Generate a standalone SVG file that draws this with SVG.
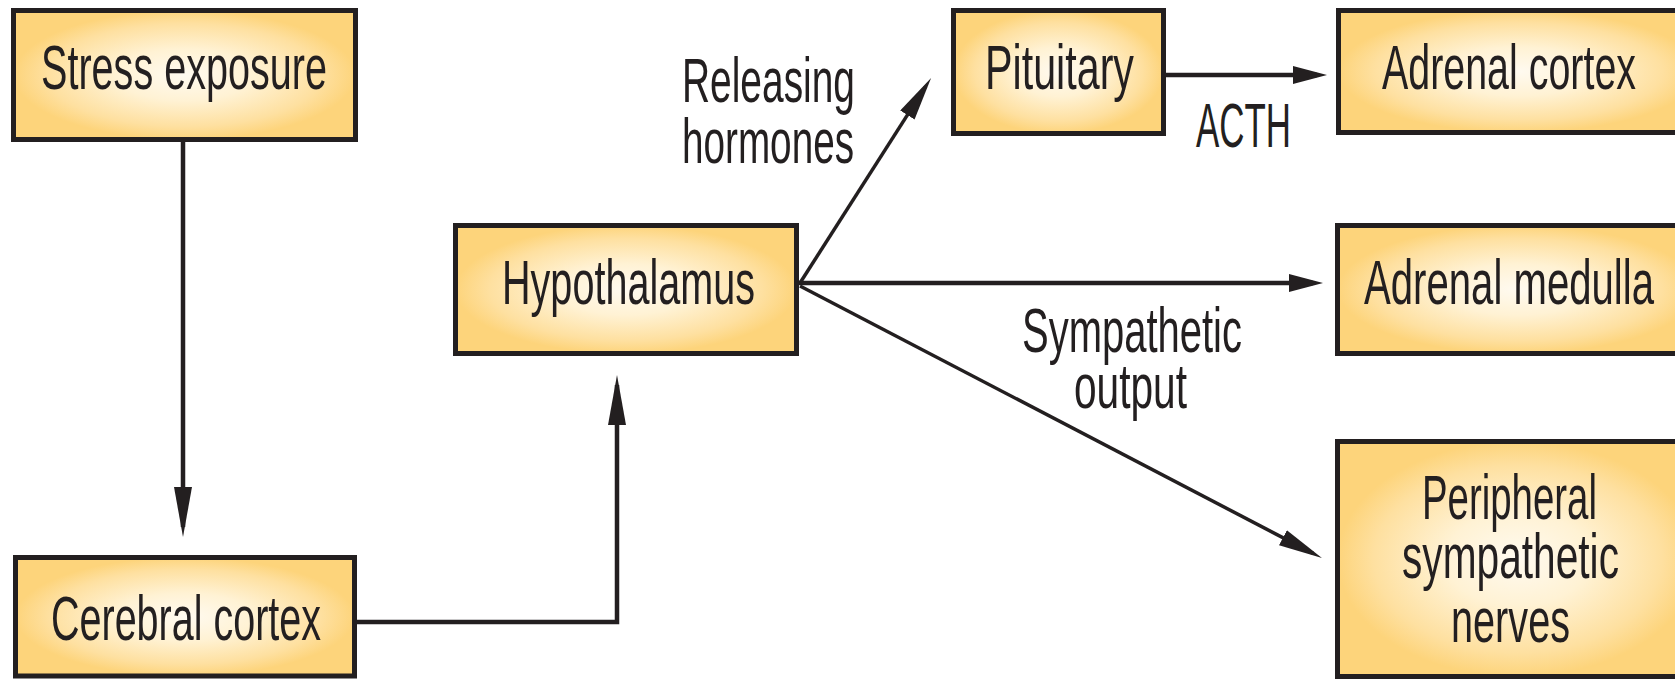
<svg xmlns="http://www.w3.org/2000/svg" width="1675" height="679" viewBox="0 0 1675 679">
<style>
.box{fill:url(#g);stroke:#231f20;stroke-width:5}
.t{font-family:"Liberation Sans",Arial,sans-serif;font-size:63px;fill:#231f20}
.c{fill:none;stroke:#231f20;stroke-width:4.5}
.d{fill:none;stroke:#231f20;stroke-width:3.5}
</style>
<defs>
<radialGradient id="g" cx="0.5" cy="0.5" r="0.5">
<stop offset="0" stop-color="#fffaf0"/>
<stop offset="0.4" stop-color="#fff2d4"/>
<stop offset="0.8" stop-color="#fee0a0"/>
<stop offset="1" stop-color="#fdd47b"/>
</radialGradient>
<marker id="aH" markerUnits="userSpaceOnUse" markerWidth="34" markerHeight="20" refX="24" refY="9" orient="auto"><path d="M0,0 L34,9 L0,18 Z" fill="#231f20"/></marker>
<marker id="aD" markerUnits="userSpaceOnUse" markerWidth="44" markerHeight="18" refX="34" refY="8.5" orient="auto"><path d="M0,0 L44,8.5 L0,17 Z" fill="#231f20"/></marker>
<marker id="aV" markerUnits="userSpaceOnUse" markerWidth="50" markerHeight="18" refX="40" refY="9" orient="auto"><path d="M0,0 L50,9 L0,18 Z" fill="#231f20"/></marker>
</defs>
<rect width="1675" height="679" fill="#ffffff"/>
<g id="connectors">
<path class="c" d="M183,142 V527" marker-end="url(#aV)"/>
<path class="c" d="M357,622 H617 V385" marker-end="url(#aV)"/>
<path class="d" d="M800,283 L925.7,86.4" marker-end="url(#aD)"/>
<path class="c" d="M797,283 H1313" marker-end="url(#aH)"/>
<path class="d" d="M800,286 L1313.1,553.4" marker-end="url(#aD)"/>
<path class="c" d="M1164,75 H1317" marker-end="url(#aH)"/>
<text class="t" x="682" y="102" textLength="173" lengthAdjust="spacingAndGlyphs">Releasing</text>
<text class="t" x="682" y="163" textLength="172" lengthAdjust="spacingAndGlyphs">hormones</text>
<text class="t" x="1196" y="147" textLength="95" lengthAdjust="spacingAndGlyphs">ACTH</text>
<text class="t" x="1022" y="352" textLength="220" lengthAdjust="spacingAndGlyphs">Sympathetic</text>
<text class="t" x="1074" y="408" textLength="113" lengthAdjust="spacingAndGlyphs">output</text>
</g>
<g id="stress">
<rect class="box" x="13.5" y="10.5" width="342" height="129"/>
<text class="t" x="41" y="89" textLength="286" lengthAdjust="spacingAndGlyphs">Stress exposure</text>
</g>
<g id="cerebral">
<rect class="box" x="15.5" y="557.5" width="339" height="118.5"/>
<text class="t" x="51" y="640" textLength="270" lengthAdjust="spacingAndGlyphs">Cerebral cortex</text>
</g>
<g id="hypothalamus">
<rect class="box" x="455.5" y="225.5" width="341" height="128"/>
<text class="t" x="502" y="304" textLength="253" lengthAdjust="spacingAndGlyphs">Hypothalamus</text>
</g>
<g id="pituitary">
<rect class="box" x="953.5" y="10.5" width="210" height="123"/>
<text class="t" x="985" y="89" textLength="149" lengthAdjust="spacingAndGlyphs">Pituitary</text>
</g>
<g id="adrenal-cortex">
<rect class="box" x="1338.5" y="10.5" width="360" height="122"/>
<text class="t" x="1382" y="89" textLength="254" lengthAdjust="spacingAndGlyphs">Adrenal cortex</text>
</g>
<g id="adrenal-medulla">
<rect class="box" x="1337.5" y="225.5" width="360" height="128"/>
<text class="t" x="1364" y="304" textLength="290" lengthAdjust="spacingAndGlyphs">Adrenal medulla</text>
</g>
<g id="peripheral">
<rect class="box" x="1337.5" y="441.5" width="360" height="235"/>
<text class="t" x="1422" y="519" textLength="175" lengthAdjust="spacingAndGlyphs">Peripheral</text>
<text class="t" x="1402" y="578" textLength="217" lengthAdjust="spacingAndGlyphs">sympathetic</text>
<text class="t" x="1451" y="642" textLength="119" lengthAdjust="spacingAndGlyphs">nerves</text>
</g>
</svg>
